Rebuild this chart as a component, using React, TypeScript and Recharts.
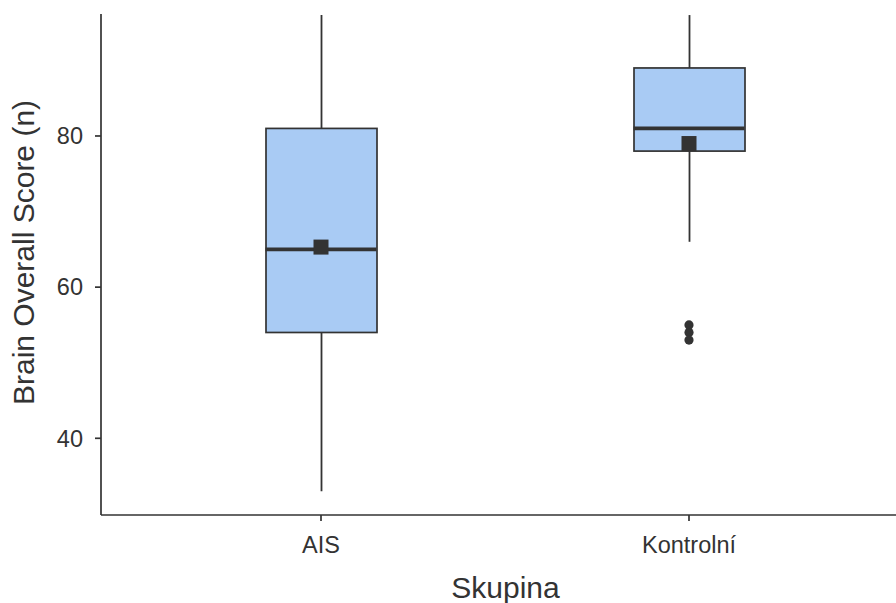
import React from 'react';
import { ComposedChart, Bar, Scatter, XAxis, YAxis } from 'recharts';

const groups = ['AIS', 'Kontrolní'];
const whiskerLow = [33, 66];
const q1 = [54, 78];
const median = [65, 81];
const q3 = [81, 89];
const whiskerHigh = [96, 96];
const means = [65.3, 79];
const outlierGroups = ['Kontrolní', 'Kontrolní', 'Kontrolní'];
const outlierValues = [55, 54, 53];
const yTicks = [40, 60, 80];

const data = groups.map((g, i) => ({
  group: g,
  whisker: [whiskerLow[i], whiskerHigh[i]],
  box: [q1[i], q3[i]],
  median: median[i],
  mean: means[i],
}));
const outliers = outlierGroups.map((g, i) => ({ group: g, value: outlierValues[i] }));

const FONT = '"Liberation Sans", Arial, Helvetica, sans-serif';
const INK = '#333333';
const BOX_W = 111;

const WhiskerShape = (p: any) => {
  const cx = p.x + p.width / 2;
  return <line x1={cx} x2={cx} y1={p.y} y2={p.y + p.height} stroke={INK} strokeWidth={1.8} />;
};
const BoxShape = (p: any) => (
  <rect x={p.x} y={p.y} width={p.width} height={p.height} fill="#a9cbf4" stroke={INK} strokeWidth={1.7} />
);
const MedianShape = (p: any) => (
  <line x1={p.cx - BOX_W / 2} x2={p.cx + BOX_W / 2} y1={p.cy} y2={p.cy} stroke={INK} strokeWidth={3.8} />
);
const MeanShape = (p: any) => <rect x={p.cx - 7.5} y={p.cy - 7.5} width={15} height={15} fill={INK} />;
const OutlierShape = (p: any) => <circle cx={p.cx} cy={p.cy} r={4.6} fill={INK} />;

const YTitle = (props: any) => {
  const vb = props.viewBox;
  const x = vb.x + 33.5;
  const y = vb.y + 238.5;
  return (
    <text x={x} y={y} transform={`rotate(-90, ${x}, ${y})`} textAnchor="middle" fontSize={30} fill={INK} fontFamily={FONT}>
      Brain Overall Score (n)
    </text>
  );
};
const XTitle = (props: any) => {
  const vb = props.viewBox;
  return (
    <text x={vb.x + 404.5} y={vb.y + 83} textAnchor="middle" fontSize={30} fill={INK} fontFamily={FONT}>
      Skupina
    </text>
  );
};

export default function App() {
  return (
    <div style={{ position: 'absolute', left: 0, top: 0, width: 896, height: 603, overflow: 'hidden', background: '#fff' }}>
      <ComposedChart width={896} height={603} data={data} margin={{ top: 14, right: 0, bottom: 0, left: 0 }}>
        <XAxis
          xAxisId="main"
          dataKey="group"
          type="category"
          allowDuplicatedCategory={false}
          padding={{ left: 36, right: 23 }}
          height={88}
          tickSize={6}
          tickMargin={15}
          axisLine={{ stroke: INK, strokeWidth: 1.7 }}
          tickLine={{ stroke: INK, strokeWidth: 1.7 }}
          tick={{ fontSize: 23.5, fill: INK, fontFamily: FONT }}
          label={XTitle}
        />
        <XAxis
          xAxisId="box"
          dataKey="group"
          type="category"
          allowDuplicatedCategory={false}
          padding={{ left: 36, right: 23 }}
          height={0}
          hide
        />
        <YAxis
          type="number"
          domain={[29.85, 96.14]}
          ticks={yTicks}
          allowDataOverflow
          width={101}
          tickSize={6}
          tickMargin={12}
          axisLine={{ stroke: INK, strokeWidth: 1.7 }}
          tickLine={{ stroke: INK, strokeWidth: 1.7 }}
          tick={{ fontSize: 23.5, fill: INK, fontFamily: FONT }}
          label={YTitle}
        />
        <Bar xAxisId="main" dataKey="whisker" barSize={BOX_W} shape={WhiskerShape} isAnimationActive={false} />
        <Bar xAxisId="box" dataKey="box" barSize={BOX_W} shape={BoxShape} isAnimationActive={false} />
        <Scatter xAxisId="main" dataKey="median" shape={MedianShape} isAnimationActive={false} />
        <Scatter xAxisId="main" dataKey="mean" shape={MeanShape} isAnimationActive={false} />
        <Scatter xAxisId="main" data={outliers} dataKey="value" shape={OutlierShape} isAnimationActive={false} />
      </ComposedChart>
    </div>
  );
}
